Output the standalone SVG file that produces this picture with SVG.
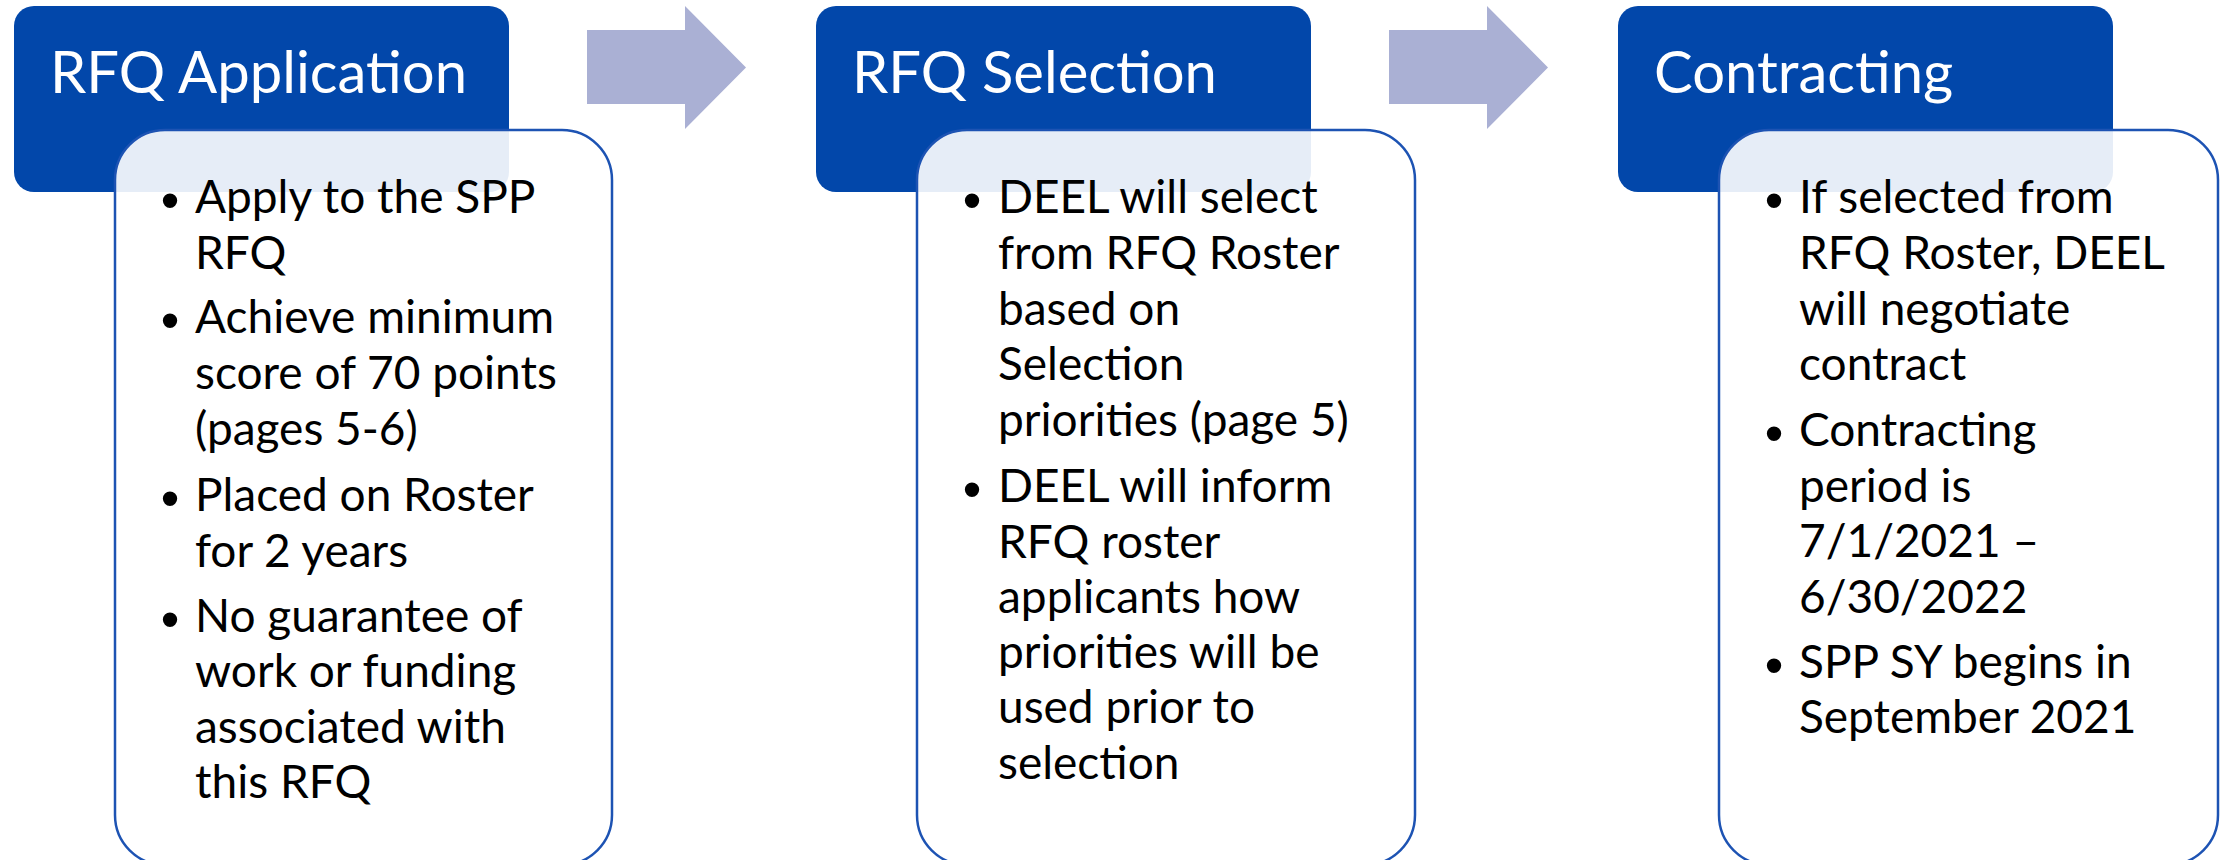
<svg xmlns="http://www.w3.org/2000/svg" width="2224" height="860" viewBox="0 0 2224 860">
<style>
.hdr{fill:#0247AA}
.hdrt{fill:#FFFFFF;font-family:Lato,"Open Sans","Liberation Sans",sans-serif;font-size:58px}
.box{fill:#FFFFFF;fill-opacity:0.9;stroke:#1D53B3;stroke-width:2.5}
.txt{fill:#000000;font-family:Lato,"Open Sans","Liberation Sans",sans-serif;font-size:46px}
.bul{fill:#000000;font-family:"Liberation Sans",sans-serif;font-size:53px;text-anchor:middle}
.arr{fill:#AAB0D4}
</style>
<rect width="2224" height="860" fill="#FFFFFF"/>
<g id="connectors">
<polygon class="arr" points="587,30 685,30 685,6 746,67.5 685,129 685,104 587,104"/>
<polygon class="arr" points="1389,30 1487,30 1487,6 1548,67.5 1487,129 1487,104 1389,104"/>
</g>
<g id="node-rfq-application">
<rect class="hdr" x="14" y="6" width="495" height="186" rx="20"/>
<text class="hdrt" x="50" y="93">RFQ Application</text>
<rect class="box" x="115" y="130" width="497" height="735" rx="50"/>
<text class="bul" x="170" y="219">•</text>
<text class="bul" x="170" y="339">•</text>
<text class="bul" x="170" y="517">•</text>
<text class="bul" x="170" y="638">•</text>
<text class="txt" x="195" y="213">Apply to the SPP</text>
<text class="txt" x="195" y="269">RFQ</text>
<text class="txt" x="195" y="333">Achieve minimum</text>
<text class="txt" x="195" y="389">score of 70 points</text>
<text class="txt" x="195" y="445">(pages 5-6)</text>
<text class="txt" x="195" y="511">Placed on Roster</text>
<text class="txt" x="195" y="567">for 2 years</text>
<text class="txt" x="195" y="632">No guarantee of</text>
<text class="txt" x="195" y="687">work or funding</text>
<text class="txt" x="195" y="743">associated with</text>
<text class="txt" x="195" y="798">this RFQ</text>
</g>
<g id="node-rfq-selection">
<rect class="hdr" x="816" y="6" width="495" height="186" rx="20"/>
<text class="hdrt" x="852" y="93">RFQ Selection</text>
<rect class="box" x="917" y="130" width="498" height="735" rx="50"/>
<text class="bul" x="972" y="219">•</text>
<text class="bul" x="972" y="508">•</text>
<text class="txt" x="998" y="213">DEEL will select</text>
<text class="txt" x="998" y="269">from RFQ Roster</text>
<text class="txt" x="998" y="325">based on</text>
<text class="txt" x="998" y="380">Selection</text>
<text class="txt" x="998" y="436">priorities (page 5)</text>
<text class="txt" x="998" y="502">DEEL will inform</text>
<text class="txt" x="998" y="558">RFQ roster</text>
<text class="txt" x="998" y="613">applicants how</text>
<text class="txt" x="998" y="668">priorities will be</text>
<text class="txt" x="998" y="723">used prior to</text>
<text class="txt" x="998" y="779">selection</text>
</g>
<g id="node-contracting">
<rect class="hdr" x="1618" y="6" width="495" height="186" rx="20"/>
<text class="hdrt" x="1654" y="93">Contracting</text>
<rect class="box" x="1719" y="130" width="499" height="735" rx="50"/>
<text class="bul" x="1774" y="219">•</text>
<text class="bul" x="1774" y="452">•</text>
<text class="bul" x="1774" y="684">•</text>
<text class="txt" x="1799" y="213">If selected from</text>
<text class="txt" x="1799" y="269">RFQ Roster, DEEL</text>
<text class="txt" x="1799" y="325">will negotiate</text>
<text class="txt" x="1799" y="380">contract</text>
<text class="txt" x="1799" y="446">Contracting</text>
<text class="txt" x="1799" y="502">period is</text>
<text class="txt" x="1799" y="557">7/1/2021 –</text>
<text class="txt" x="1799" y="613">6/30/2022</text>
<text class="txt" x="1799" y="678">SPP SY begins in</text>
<text class="txt" x="1799" y="733">September 2021</text>
</g>
</svg>
